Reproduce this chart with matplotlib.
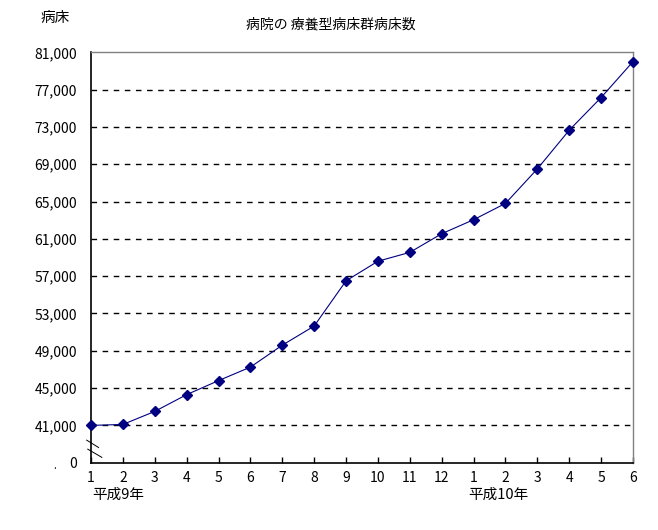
import numpy as np
import matplotlib.pyplot as plt

plt.rcParams['font.family'] = ['Noto Sans CJK JP', 'DejaVu Sans']

#%% データ
months = ['1', '2', '3', '4', '5', '6', '7', '8', '9', '10', '11', '12',
          '1', '2', '3', '4', '5', '6']
beds = [41000, 41100, 42500, 44300, 45800, 47250, 49600, 51650, 56500,
        58600, 59550, 61550, 63050, 64800, 68500, 72650, 76150, 80000]

# 軸は 41,000 から始まり、その下に省略された 0 がある
y_ticks = [37000, 41000, 45000, 49000, 53000, 57000, 61000, 65000,
           69000, 73000, 77000, 81000]
y_labels = ['0', '41,000', '45,000', '49,000', '53,000', '57,000',
            '61,000', '65,000', '69,000', '73,000', '77,000', '81,000']

#%% 図
fig = plt.figure(figsize=(6.58, 5.30), dpi=100)
ax = fig.add_axes([91 / 658, 1 - 462.7 / 530, 542 / 658, 410.4 / 530])

x = np.arange(1, len(beds) + 1)
ax.hlines(y_ticks[1:-1], x[0], x[-1], colors='black', linestyles=(0, (4, 4)),
          linewidth=1, zorder=1)
ax.plot(x, beds, color='#000080', linewidth=0.8, marker='D', markersize=4.6,
        markerfacecolor='#000080', markeredgecolor='#000080', zorder=3,
        clip_on=False)

ax.set_xlim(x[0], x[-1])
ax.set_ylim(y_ticks[0], y_ticks[-1])
ax.set_xticks(x)
ax.set_xticklabels(months, fontsize=10)
ax.set_yticks(y_ticks)
ax.set_yticklabels(y_labels, fontsize=10)
ax.tick_params(axis='x', direction='in', length=4, pad=6, width=1)
ax.tick_params(axis='y', length=0, pad=10)

for s in ['left', 'bottom']:
    ax.spines[s].set_color('black')
    ax.spines[s].set_linewidth(1.2)
for s in ['top', 'right']:
    ax.spines[s].set_color('#808080')
    ax.spines[s].set_linewidth(1)

# 省略記号
ax.plot([-0.008, 0.014], [0.055, 0.037], transform=ax.transAxes,
        color='black', linewidth=0.7, clip_on=False)
ax.plot([-0.006, 0.020], [0.033, 0.013], transform=ax.transAxes,
        color='black', linewidth=0.7, clip_on=False)

fig.text(331 / 658, 1 - 25 / 530, '病院の 療養型病床群病床数', ha='center',
         va='center', fontsize=10)
fig.text(41 / 658, 1 - 18 / 530, '病床', ha='left', va='center', fontsize=10.5)
fig.text(92 / 658, 1 - 495 / 530, '平成9年', ha='left', va='center',
         fontsize=10.5)
fig.text(498 / 658, 1 - 495 / 530, '平成10年', ha='center', va='center',
         fontsize=10.5)
fig.text(55 / 658, 1 - 466 / 530, '.', ha='center', va='center', fontsize=7)

fig.savefig('out.png', dpi=100)
